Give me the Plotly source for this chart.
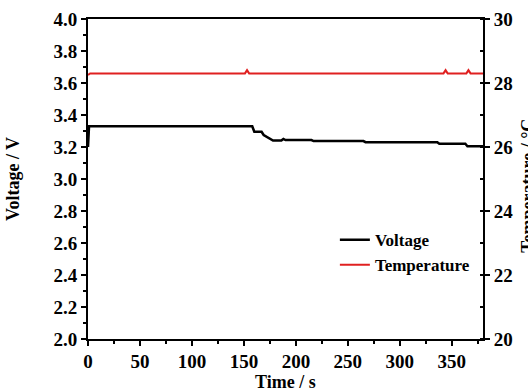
import plotly.graph_objects as go

volt_time = [0, 1, 158, 160, 167, 169, 178, 186, 188, 190, 215, 217, 265, 267, 336, 338, 363, 365, 380]
volt_vals = [3.20, 3.33, 3.33, 3.295, 3.295, 3.275, 3.24, 3.24, 3.25, 3.243, 3.243, 3.237, 3.237, 3.23, 3.23, 3.22, 3.22, 3.205, 3.205]

temp_time = [0, 2, 151, 153, 155, 342, 344, 346, 364, 366, 368, 380]
temp_vals = [28.25, 28.3, 28.3, 28.4, 28.3, 28.3, 28.4, 28.3, 28.3, 28.4, 28.3, 28.3]

x_ticks = [0, 50, 100, 150, 200, 250, 300, 350]
y_ticks = [2.0, 2.2, 2.4, 2.6, 2.8, 3.0, 3.2, 3.4, 3.6, 3.8, 4.0]
y2_ticks = [20, 22, 24, 26, 28, 30]

FONT = "Liberation Serif"
RED = "#e02020"

fig = go.Figure()
fig.add_trace(go.Scatter(x=volt_time, y=volt_vals, mode="lines", name="Voltage",
                         line=dict(color="black", width=2.5)))
fig.add_trace(go.Scatter(x=temp_time, y=temp_vals, mode="lines", name="Temperature",
                         line=dict(color=RED, width=2), yaxis="y2"))

tickfont = dict(family=FONT, size=19, color="black", weight="bold")
titlefont = dict(family=FONT, size=18, color="black", weight="bold")

fig.update_layout(
    width=528, height=391,
    margin=dict(l=88, r=45, t=19, b=52),
    paper_bgcolor="white", plot_bgcolor="white",
    showlegend=True,
    legend=dict(x=0.625, y=0.365, xanchor="left", yanchor="top",
                bgcolor="rgba(0,0,0,0)", borderwidth=0,
                font=dict(family=FONT, size=17, color="black", weight="bold"),
                tracegroupgap=0),
    xaxis=dict(range=[0, 380], tickvals=x_ticks, ticktext=[str(v) for v in x_ticks],
               showgrid=False, zeroline=False, showline=True, linecolor="black", linewidth=2,
               mirror=True, ticks="outside", ticklen=5, tickwidth=2, tickcolor="black",
               tickfont=tickfont, ticklabelstandoff=-1, automargin=False,
               minor=dict(dtick=25, tick0=0, ticks="outside", ticklen=3, tickwidth=1.5, tickcolor="black")),
    yaxis=dict(range=[2.0, 4.0], tickvals=y_ticks, ticktext=[f"{v:.1f}" for v in y_ticks],
               showgrid=False, zeroline=False, showline=True, linecolor="black", linewidth=2,
               ticks="outside", ticklen=5, tickwidth=2, tickcolor="black",
               tickfont=tickfont, automargin=False,
               minor=dict(dtick=0.1, tick0=2.0, ticks="outside", ticklen=3, tickwidth=1.5, tickcolor="black")),
    yaxis2=dict(range=[20, 30], tickvals=y2_ticks, ticktext=[str(v) for v in y2_ticks],
                overlaying="y", side="right", automargin=False,
                showgrid=False, zeroline=False, showline=True, linecolor="black", linewidth=2,
                ticks="outside", ticklen=5, tickwidth=2, tickcolor="black",
                tickfont=tickfont,
                minor=dict(dtick=1, tick0=20, ticks="inside", ticklen=3, tickwidth=1.5, tickcolor="black")),
    annotations=[
        dict(text="Time / s", xref="paper", yref="paper", x=0.5, y=-0.135,
             xanchor="center", yanchor="middle", showarrow=False, font=titlefont),
        dict(text="Voltage / V", textangle=-90, xref="paper", yref="paper",
             x=-0.19, y=0.5, xanchor="center", yanchor="middle", showarrow=False, font=titlefont),
        dict(text="Temperature / °C", textangle=-90, xref="paper", yref="paper",
             x=1.115, y=0.48, xanchor="center", yanchor="middle", showarrow=False,
             font=titlefont),
    ],
)

fig.write_html("out.html")
